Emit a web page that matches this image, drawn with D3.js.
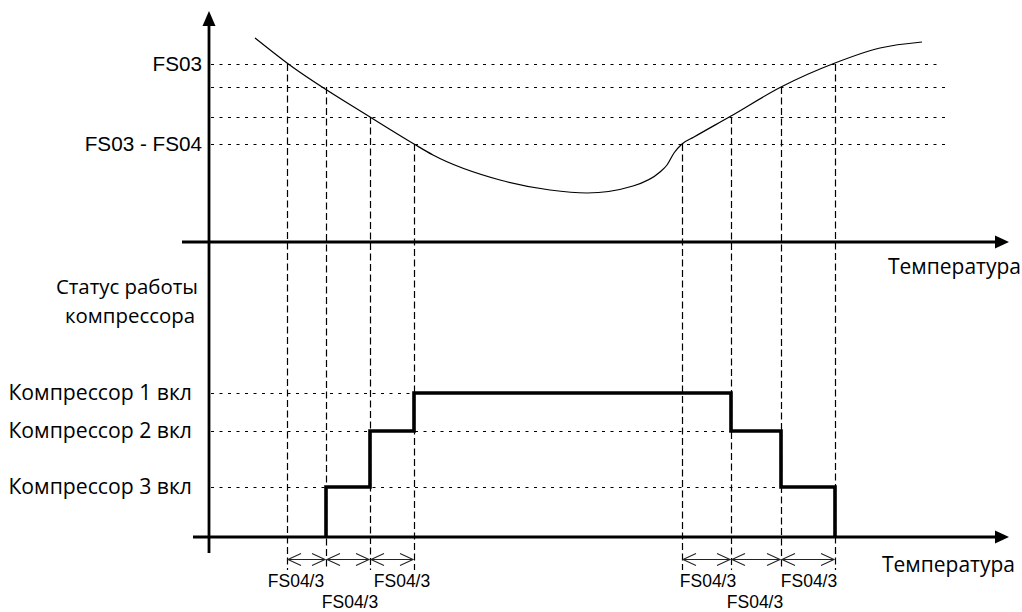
<!DOCTYPE html>
<html>
<head>
<meta charset="utf-8">
<script src="https://cdn.jsdelivr.net/npm/d3@7"></script>
<style>
  body { margin: 0; background: #fff; }
  svg { display: block; }
  .lat { font-family: "Liberation Sans", Arial, sans-serif; fill: #000; }
  .cyr { font-family: "Open Sans", "Noto Sans", sans-serif; fill: #000; }
</style>
</head>
<body>
<div id="chart"></div>
<script>
// upper panel: curve of the controlled value against temperature (arbitrary units)
const curveTemps  = [4.6, 7.8, 16.1, 20.5, 22.4, 29.1, 34.1, 37.8, 42.4, 45.1, 45.8, 46.5, 47.3, 48.5, 52.2, 57.2, 62.6, 67.1, 71.3];
const curveValues = [20.4, 17.9, 12.5, 9.8, 8.7, 6.2, 5.2, 4.9, 5.6, 7.0, 7.7, 8.9, 9.8, 10.5, 12.6, 15.5, 17.9, 19.4, 20.0];

// threshold levels: FS03 ... FS03 - FS04
const levelLabels = ['FS03', '', '', 'FS03 - FS04'];
const levelValues = [17.8, 15.5, 12.5, 9.8];
const levelEnds   = [73.1, 73.9, 73.9, 73.9];
const riseTemps   = [7.8, 11.7, 16.1, 20.5];   // left crossings, same order as levels
const fallTemps   = [62.6, 57.2, 52.2, 47.3];  // right crossings, same order as levels

// lower panel: compressor stages (lowest line = first compressor switched on)
const stageLabels = ['Компрессор 3 вкл', 'Компрессор 2 вкл', 'Компрессор 1 вкл'];
const stageLevels = [5.0, 10.6, 14.4];
const stageOn     = [11.7, 16.1, 20.5];
const stageOff    = [62.6, 57.2, 52.2];

// FS04/3 spans and their labels
const spans = [[7.8, 11.7], [11.7, 16.1], [16.1, 20.5], [47.3, 52.2], [52.2, 57.2], [57.2, 62.6]];
const spanLabelX   = [8.7, 14.1, 19.3, 49.9, 54.6, 60.0];
const spanLabelRow = [0, 1, 0, 0, 1, 0];

const width = 1022, height = 612;

const x = d3.scaleLinear().domain([0, 80]).range([209, 1009]);
const yTop = d3.scaleLinear().domain([0, 23]).range([242, 12]);
const yStage = d3.scaleLinear().domain([0, 15]).range([537, 387]);

const svg = d3.select('#chart').append('svg')
  .attr('width', width)
  .attr('height', height);

const dotted = '3,5.5';
const dashed = '7,3.5';

// horizontal dotted threshold lines
svg.selectAll('.level-line')
  .data(levelValues)
  .join('line')
    .attr('class', 'level-line')
    .attr('x1', x(0.2))
    .attr('x2', (d, i) => x(levelEnds[i]))
    .attr('y1', d => yTop(d) + 0.5)
    .attr('y2', d => yTop(d) + 0.5)
    .attr('stroke', '#000')
    .attr('stroke-width', 1.2)
    .attr('stroke-dasharray', dotted);

// stage dotted lines
svg.selectAll('.stage-line')
  .data(stageLevels)
  .join('line')
    .attr('class', 'stage-line')
    .attr('x1', x(0.2))
    .attr('x2', (d, i) => x(stageOff[i]))
    .attr('y1', d => yStage(d) + 0.5)
    .attr('y2', d => yStage(d) + 0.5)
    .attr('stroke', '#000')
    .attr('stroke-width', 1.2)
    .attr('stroke-dasharray', dotted);

// vertical dashed lines from the curve crossings down past the lower axis
const crossings = levelValues.map((v, i) => ({ t: riseTemps[i], v }))
  .concat(levelValues.map((v, i) => ({ t: fallTemps[i], v })));
svg.selectAll('.cross-line')
  .data(crossings)
  .join('line')
    .attr('class', 'cross-line')
    .attr('x1', d => x(d.t) + 0.5)
    .attr('x2', d => x(d.t) + 0.5)
    .attr('y1', d => yTop(d.v))
    .attr('y2', yStage(-3.3))
    .attr('stroke', '#000')
    .attr('stroke-width', 1.2)
    .attr('stroke-dasharray', dashed);

// curve
const curveLine = d3.line()
  .x(d => x(d[0]))
  .y(d => yTop(d[1]))
  .curve(d3.curveMonotoneX);
svg.append('path')
  .datum(d3.zip(curveTemps, curveValues))
  .attr('d', curveLine)
  .attr('fill', 'none')
  .attr('stroke', '#000')
  .attr('stroke-width', 1.2);

// axes
const axisW = 2.8;
svg.append('line')
  .attr('x1', x(0)).attr('x2', x(0))
  .attr('y1', yTop(21.8)).attr('y2', yStage(-1.6))
  .attr('stroke', '#000').attr('stroke-width', axisW);
svg.append('path')
  .attr('d', `M${x(0)},${yTop(23.1)} L${x(0) - 6.5},${yTop(21.6)} L${x(0) + 6.5},${yTop(21.6)} Z`)
  .attr('fill', '#000');

function hAxis(y0, xStart) {
  svg.append('line')
    .attr('x1', x(xStart)).attr('x2', x(78.8))
    .attr('y1', y0).attr('y2', y0)
    .attr('stroke', '#000').attr('stroke-width', axisW);
  svg.append('path')
    .attr('d', `M${x(80)},${y0} L${x(78.6)},${y0 - 6.5} L${x(78.6)},${y0 + 6.5} Z`)
    .attr('fill', '#000');
}
hAxis(yTop(0), -2.7);
hAxis(yStage(0), -1.6);

// stage step line: switch on left to right, switch off in reverse order
const stagePts = [[stageOn[0], 0]]
  .concat(stageOn.map((t, i) => [t, i + 1]))
  .concat(stageOff.slice().reverse().map((t, i) => [t, stageLevels.length - 1 - i]));
const levelOf = s => s === 0 ? 0 : stageLevels[s - 1];
const stepLine = d3.line()
  .x(d => x(d[0]))
  .y(d => yStage(levelOf(d[1])))
  .curve(d3.curveStepAfter);
svg.append('path')
  .datum(stagePts)
  .attr('d', stepLine)
  .attr('fill', 'none')
  .attr('stroke', '#000')
  .attr('stroke-width', 3.6);

// FS04/3 double arrows
const arrowY = yStage(-2.2) + 0.5;
const arrows = svg.append('g').attr('stroke', '#222').attr('stroke-width', 1.1).attr('fill', 'none');
spans.forEach(([a, b]) => {
  const x1 = x(a) + 1, x2 = x(b) - 1;
  arrows.append('line').attr('x1', x1).attr('x2', x2).attr('y1', arrowY).attr('y2', arrowY);
  arrows.append('path').attr('d', `M${x1 + 13},${arrowY - 6} L${x1},${arrowY} L${x1 + 13},${arrowY + 6}`);
  arrows.append('path').attr('d', `M${x2 - 13},${arrowY - 6} L${x2},${arrowY} L${x2 - 13},${arrowY + 6}`);
});
svg.selectAll('.span-label')
  .data(spanLabelX)
  .join('text')
    .attr('class', 'span-label lat')
    .attr('x', d => x(d))
    .attr('y', (d, i) => spanLabelRow[i] ? 608 : 587)
    .attr('text-anchor', 'middle')
    .attr('font-size', 17.5)
    .text('FS04/3');

// level labels
svg.selectAll('.level-label')
  .data(levelValues)
  .join('text')
    .attr('class', 'level-label lat')
    .attr('x', x(-0.7))
    .attr('y', d => yTop(d))
    .attr('dy', '0.33em')
    .attr('text-anchor', 'end')
    .attr('font-size', 20.7)
    .text((d, i) => levelLabels[i]);

// stage labels
svg.selectAll('.stage-label')
  .data(stageLevels)
  .join('text')
    .attr('class', 'stage-label cyr')
    .attr('x', x(-1.7))
    .attr('y', d => yStage(d))
    .attr('dy', '0.35em')
    .attr('text-anchor', 'end')
    .attr('font-size', 21.2)
    .text((d, i) => stageLabels[i]);

// panel title and axis names
svg.append('text').attr('class', 'cyr')
  .attr('x', x(-1.1)).attr('y', 294)
  .attr('text-anchor', 'end').attr('font-size', 20.4)
  .text('Статус работы');
svg.append('text').attr('class', 'cyr')
  .attr('x', x(-1.4)).attr('y', 323)
  .attr('text-anchor', 'end').attr('font-size', 20.4)
  .text('компрессора');
svg.append('text').attr('class', 'cyr')
  .attr('x', 888).attr('y', 274)
  .attr('font-size', 21)
  .text('Температура');
svg.append('text').attr('class', 'cyr')
  .attr('x', 882).attr('y', 572)
  .attr('font-size', 21)
  .text('Температура');
</script>
</body>
</html>
